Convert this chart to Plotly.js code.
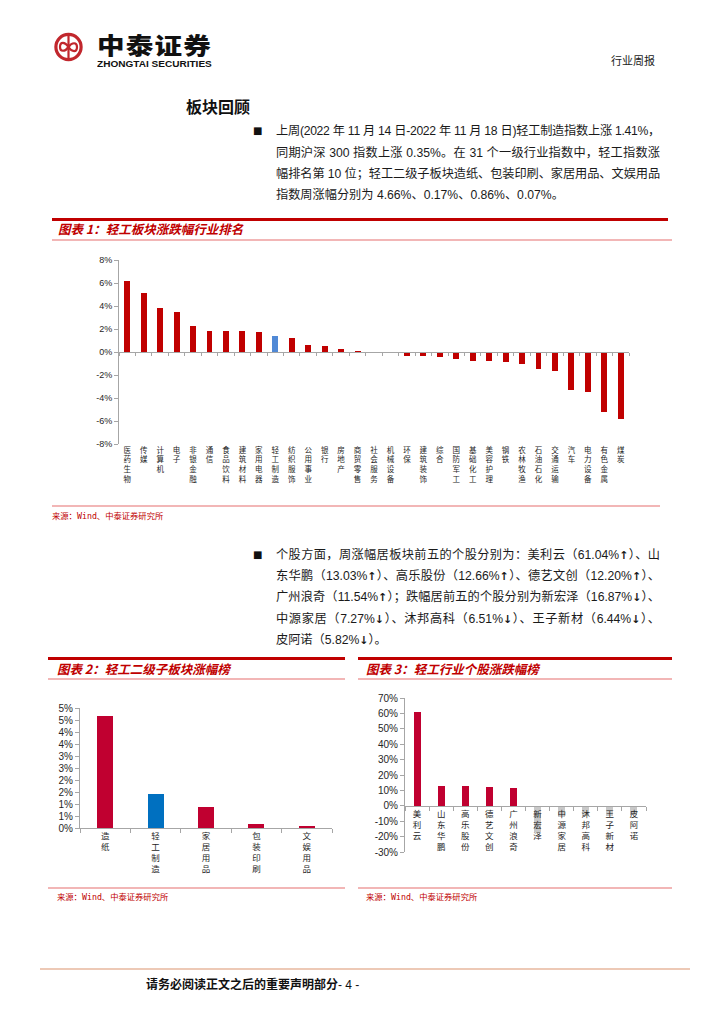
<!DOCTYPE html>
<html><head><meta charset="utf-8">
<script src="https://cdn.plot.ly/plotly-3.0.1.min.js"></script>
<style>
html,body{margin:0;padding:0}
body{width:724px;height:1024px;position:relative;background:#fff;overflow:hidden;font-family:"Liberation Sans","Noto Sans CJK SC",sans-serif;color:#111}
.abs{position:absolute}
.jl{position:absolute;left:276px;width:384px;font-size:12.2px;line-height:16px;text-align:justify;text-align-last:justify;color:#1a1a1a}
.ll{text-align-last:left}
.ar{font-family:"DejaVu Sans",sans-serif;font-weight:bold;font-size:11px}
.bullet{position:absolute;left:253px;font-size:10px;line-height:16px;font-family:"DejaVu Sans",sans-serif}
.redbar{position:absolute;height:3px;background:#C00000}
.pinkbar{position:absolute;height:1.5px;background:#F2B6B6}
.ctitle{position:absolute;font-family:"Noto Sans CJK SC",sans-serif;font-weight:bold;font-style:italic;color:#C00000;font-size:12.5px;line-height:16px;white-space:nowrap}
.src{position:absolute;font-family:"DejaVu Sans Mono","Noto Sans CJK SC",monospace;color:#C00000;font-size:8.3px;line-height:11px;white-space:nowrap}
.chart{position:absolute}
.fit{position:absolute;white-space:nowrap;transform-origin:0 0}
</style>
</head><body>

<svg class="abs" style="left:50px;top:28px" width="40" height="40">
  <circle cx="18.5" cy="19" r="12.6" fill="none" stroke="#C1272D" stroke-width="3.2"/>
  <line x1="18.5" y1="8" x2="18.5" y2="30" stroke="#C1272D" stroke-width="2.2"/>
  <path d="M18.5 19 C15 13.5,10 13.5,10 19 C10 24,15 24,18.5 19 C22 14,27 14,27 19 C27 24.5,22 24.5,18.5 19" fill="none" stroke="#C1272D" stroke-width="2.2"/>
</svg>
<div class="fit" data-w="115" style="left:97px;top:32px;font-size:23px;line-height:25px;font-weight:900;font-family:'Noto Sans CJK SC';color:#111;letter-spacing:1px">中泰证券</div>
<div class="fit" data-w="115" style="left:97px;top:59px;font-size:9px;line-height:10px;font-weight:bold;font-family:'Liberation Sans';color:#111">ZHONGTAI SECURITIES</div>
<div class="abs" style="left:611px;top:52px;font-size:11px;line-height:16px;font-family:'Noto Sans CJK SC';color:#222">行业周报</div>

<div class="abs" style="left:186px;top:96px;font-size:16px;line-height:20px;font-weight:bold;font-family:'Noto Sans CJK SC';color:#111">板块回顾</div>

<div class="bullet" style="top:123px">■</div>
<div class="jl" style="top:123px">上周(2022 年 11 月 14 日-2022 年 11 月 18 日)轻工制造指数上涨 1.41%，</div>
<div class="jl" style="top:145px">同期沪深 300 指数上涨 0.35%。在 31 个一级行业指数中，轻工指数涨</div>
<div class="jl" style="top:166px">幅排名第 10 位；轻工二级子板块造纸、包装印刷、家居用品、文娱用品</div>
<div class="jl ll" style="top:187px">指数周涨幅分别为 4.66%、0.17%、0.86%、0.07%。</div>

<div class="redbar" style="left:52px;top:218px;width:616px"></div>
<div class="ctitle" style="left:58px;top:221px">图表 1：轻工板块涨跌幅行业排名</div>
<div class="pinkbar" style="left:52px;top:239px;width:620px"></div>
<div id="c1" class="chart" style="left:40px;top:248px;width:640px;height:252px"></div>
<div class="pinkbar" style="left:52px;top:505px;width:608px"></div>
<div class="src" style="left:52px;top:511px">来源：Wind、中泰证券研究所</div>

<div class="bullet" style="top:547px">■</div>
<div class="jl" style="top:547px">个股方面，周涨幅居板块前五的个股分别为：美利云（61.04%<span class="ar">↑</span>）、山</div>
<div class="jl" style="top:568px">东华鹏（13.03%<span class="ar">↑</span>）、高乐股份（12.66%<span class="ar">↑</span>）、德艺文创（12.20%<span class="ar">↑</span>）、</div>
<div class="jl" style="top:589px">广州浪奇（11.54%<span class="ar">↑</span>）；跌幅居前五的个股分别为新宏泽（16.87%<span class="ar">↓</span>）、</div>
<div class="jl" style="top:611px">中源家居（7.27%<span class="ar">↓</span>）、沐邦高科（6.51%<span class="ar">↓</span>）、王子新材（6.44%<span class="ar">↓</span>）、</div>
<div class="jl ll" style="top:632px">皮阿诺（5.82%<span class="ar">↓</span>）。</div>

<div class="redbar" style="left:48px;top:657px;width:297px"></div>
<div class="ctitle" style="left:57px;top:661px">图表 2：轻工二级子板块涨幅榜</div>
<div class="pinkbar" style="left:48px;top:678px;width:297px"></div>
<div id="c2" class="chart" style="left:40px;top:690px;width:305px;height:190px"></div>
<div class="pinkbar" style="left:48px;top:887px;width:297px"></div>
<div class="src" style="left:57px;top:892px">来源：Wind、中泰证券研究所</div>

<div class="redbar" style="left:358px;top:657px;width:314px"></div>
<div class="ctitle" style="left:366px;top:661px">图表 3：轻工行业个股涨跌幅榜</div>
<div class="pinkbar" style="left:358px;top:678px;width:314px"></div>
<div id="c3" class="chart" style="left:350px;top:690px;width:330px;height:190px"></div>
<div class="pinkbar" style="left:358px;top:887px;width:314px"></div>
<div class="src" style="left:366px;top:892px">来源：Wind、中泰证券研究所</div>

<div class="abs" style="left:40px;top:968px;width:650px;height:2px;background:#EDC9B6"></div>
<div class="abs" style="left:146px;top:976px;font-size:12px;line-height:16px;font-weight:bold;font-family:'Noto Sans CJK SC';color:#111;white-space:nowrap">请务必阅读正文之后的重要声明部分<span style="font-family:'Liberation Sans';font-weight:normal">- 4 -</span></div>

<script>
// ---------- data ----------
const industries = ['医药生物','传媒','计算机','电子','非银金融','通信','食品饮料','建筑材料','家用电器','轻工制造','纺织服饰','公用事业','银行','房地产','商贸零售','社会服务','机械设备','环保','建筑装饰','综合','国防军工','基础化工','美容护理','钢铁','农林牧渔','石油石化','交通运输','汽车','电力设备','有色金属','煤炭'];
const industryChange = [6.15,5.13,3.86,3.45,2.29,1.86,1.83,1.80,1.77,1.41,1.22,0.58,0.50,0.27,0.08,0.03,0.02,-0.35,-0.38,-0.43,-0.60,-0.75,-0.78,-0.84,-1.01,-1.48,-1.65,-3.27,-3.48,-5.24,-5.79];
const highlight = '轻工制造';
const yTicks1 = [-8,-6,-4,-2,0,2,4,6,8];

const subSectors = ['造纸','轻工制造','家居用品','包装印刷','文娱用品'];
const subChange = [4.66,1.41,0.86,0.17,0.07];
const yTickVals2 = [0,0.5,1,1.5,2,2.5,3,3.5,4,4.5,5];
const yTickText2 = ['0%','1%','1%','2%','2%','3%','3%','4%','4%','5%','5%'];

const stocks = ['美利云','山东华鹏','高乐股份','德艺文创','广州浪奇','新宏泽','中源家居','沐邦高科','王子新材','皮阿诺'];
const stockChange = [61.04,13.03,12.66,12.20,11.54,-16.87,-7.27,-6.51,-6.44,-5.82];
const yTicks3 = [-30,-20,-10,0,10,20,30,40,50,60,70];

// ---------- helpers ----------
const stack = s => Array.from(s).join('<br>');
const pct = v => String(v) + '%';
const AX = '#A6A6A6';
const numFont = s => ({family:'Liberation Sans, Arial, sans-serif', size:s, color:'#262626'});
const cjkFont = s => ({family:'Noto Sans CJK SC, sans-serif', size:s, color:'#262626'});
const cfg = {staticPlot:true, displayModeBar:false};
const base = (w,h,m) => ({width:w,height:h,margin:m,showlegend:false,paper_bgcolor:'rgba(0,0,0,0)',plot_bgcolor:'rgba(0,0,0,0)',bargap:0});

// ---------- chart 1 ----------
Plotly.newPlot('c1', [
  {type:'bar', x:industries, y:industryChange, xaxis:'x', yaxis:'y', width:0.36,
   marker:{color:industries.map(c => c===highlight ? '#5089D6' : '#C00000')}, hoverinfo:'skip'},
  {type:'scatter', mode:'markers', x:industries, y:industries.map(() => 0), xaxis:'x2', yaxis:'y',
   marker:{opacity:0}, hoverinfo:'skip'}
], Object.assign(base(640,252,{l:79,r:51,t:12,b:56}), {
  xaxis:{type:'category', categoryorder:'array', categoryarray:industries, range:[-0.5,30.5],
    anchor:'free', position:0.5, showline:true, linecolor:AX, linewidth:1, ticks:'outside', ticklen:3,
    tickcolor:AX, tickson:'boundaries', showticklabels:false, showgrid:false, zeroline:false, automargin:false},
  xaxis2:{type:'category', overlaying:'x', anchor:'y', side:'bottom', categoryorder:'array', categoryarray:industries,
    range:[-0.5,30.5], tickmode:'array', tickvals:industries, ticktext:industries.map(stack), tickfont:cjkFont(7.5),
    tickangle:0, ticks:'', showline:false, showgrid:false, zeroline:false, automargin:false},
  yaxis:{range:[-8,8], tickmode:'array', tickvals:yTicks1, ticktext:yTicks1.map(pct), tickfont:numFont(9),
    showline:true, linecolor:AX, ticks:'outside', ticklen:4, tickcolor:AX, showgrid:false, zeroline:false, automargin:false}
}), cfg);

// ---------- chart 2 ----------
Plotly.newPlot('c2', [
  {type:'bar', x:subSectors, y:subChange, width:0.32,
   marker:{color:subSectors.map(c => c===highlight ? '#0070C0' : '#C00030')}, hoverinfo:'skip'}
], Object.assign(base(305,190,{l:40,r:13,t:18,b:52}), {
  xaxis:{type:'category', categoryorder:'array', categoryarray:subSectors, range:[-0.5,4.5], tickmode:'array',
    tickvals:subSectors, ticktext:subSectors.map(stack), tickfont:cjkFont(8.5), tickangle:0,
    showline:true, linecolor:AX, ticks:'outside', ticklen:4, tickcolor:AX, tickson:'boundaries',
    showgrid:false, zeroline:false, automargin:false},
  yaxis:{range:[0,5], tickmode:'array', tickvals:yTickVals2, ticktext:yTickText2, tickfont:numFont(10),
    showline:true, linecolor:AX, ticks:'outside', ticklen:4, tickcolor:AX, showgrid:false, zeroline:false, automargin:false}
}), cfg);

// ---------- chart 3 ----------
Plotly.newPlot('c3', [
  {type:'bar', x:stocks, y:stockChange, width:0.29,
   marker:{color:stockChange.map(v => v >= 0 ? '#C00030' : '#C8C8C8')}, hoverinfo:'skip'}
], Object.assign(base(330,190,{l:55,r:34,t:8,b:28}), {
  xaxis:{type:'category', categoryorder:'array', categoryarray:stocks, range:[-0.5,9.5], anchor:'free', position:0.3,
    tickmode:'array', tickvals:stocks, ticktext:stocks.map(stack), tickfont:cjkFont(8.5), tickangle:0,
    showline:true, linecolor:AX, ticks:'outside', ticklen:4, tickcolor:AX, tickson:'boundaries',
    showgrid:false, zeroline:false, automargin:false},
  yaxis:{range:[-30,70], tickmode:'array', tickvals:yTicks3, ticktext:yTicks3.map(pct), tickfont:numFont(10),
    showline:true, linecolor:AX, ticks:'outside', ticklen:4, tickcolor:AX, showgrid:false, zeroline:false, automargin:false}
}), cfg);

// ---------- layout fitting ----------
function fitLines(){
  document.querySelectorAll('.jl').forEach(el => {
    let ls = 0;
    while (el.offsetHeight > 17 && ls > -1.5) { ls -= 0.05; el.style.letterSpacing = ls + 'px'; }
  });
  document.querySelectorAll('.fit').forEach(el => {
    el.style.transform = 'none';
    const w = el.scrollWidth, t = +el.dataset.w;
    if (w > 0) el.style.transform = 'scaleX(' + (t / w) + ')';
  });
}
fitLines();
if (document.fonts && document.fonts.ready) document.fonts.ready.then(fitLines);
</script>
</body></html>
